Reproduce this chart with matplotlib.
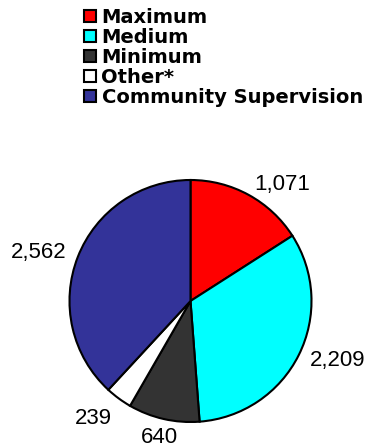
import numpy as np
import matplotlib.pyplot as plt
from matplotlib.patches import Patch

plt.rcParams['font.family'] = ['Liberation Sans', 'DejaVu Sans']

categories = ['Maximum', 'Medium', 'Minimum', 'Other*', 'Community Supervision']
values = [1071, 2209, 640, 239, 2562]
colors = ['#ff0000', '#00ffff', '#333333', '#ffffff', '#333399']
value_labels = ['1,071', '2,209', '640', '239', '2,562']

fig = plt.figure(figsize=(3.71, 4.48), dpi=100)
ax = fig.add_axes([69.5 / 371, 26 / 448, 242 / 371, 242 / 448])

wedges, _ = ax.pie(values, colors=colors, startangle=90, counterclock=False,
                   wedgeprops=dict(edgecolor='black', linewidth=1.5))
ax.set_xlim(-1, 1)
ax.set_ylim(-1, 1)
ax.set_aspect('equal')

# value labels outside the slices
for w, lab in zip(wedges, value_labels):
    w.set_clip_on(False)
    ang = np.deg2rad((w.theta1 + w.theta2) / 2)
    dx, dy = np.cos(ang), np.sin(ang)
    side = 'left' if dx > 0 else 'right'
    if dy < -0.7 and abs(dx) < 0.4:
        d, ha, va = 1.16, 'center', 'center'
    elif dy < -0.7:
        d, ha, va = 1.1, side, 'top'
    else:
        d, ha, va = 1.1, side, 'center'
    ax.text(d * dx, d * dy, lab, ha=ha, va=va, fontsize=16, clip_on=False)

handles = [Patch(facecolor=c, edgecolor='black', linewidth=1.5) for c in colors]
fig.legend(handles, categories, loc='upper left',
           bbox_to_anchor=(84 / 371, 1 - 8 / 448), frameon=False,
           prop=dict(family='DejaVu Sans', weight='bold', size=14),
           handlelength=0.6, handleheight=0.6, handletextpad=0.3,
           labelspacing=0.05, borderpad=0, borderaxespad=0)

fig.savefig('out.png', dpi=100)
